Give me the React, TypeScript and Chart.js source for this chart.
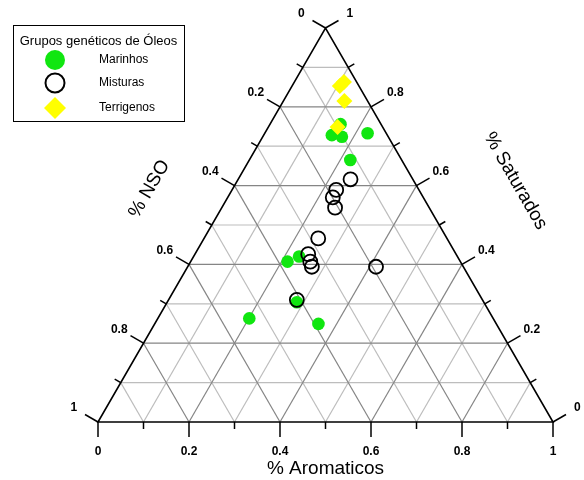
import React, { useEffect, useRef } from 'react';
import { Chart, registerables } from 'chart.js';

Chart.register(...registerables);

// ---- Data (ternary fractions; NSO = 1 - Saturados - Aromaticos) ----
const seriesNames = ['Marinhos', 'Misturas', 'Terrigenos'];
const legendTitle = 'Grupos genéticos de Óleos';
const titleAromaticos = '% Aromaticos';
const titleNSO = '% NSO';
const titleSaturados = '% Saturados';
const tickLabels = ['0', '0.2', '0.4', '0.6', '0.8', '1'];

const marinhosSat = [0.756, 0.728, 0.724, 0.733, 0.665, 0.407, 0.42, 0.304, 0.263, 0.249];
const marinhosAro = [0.155, 0.15, 0.174, 0.226, 0.222, 0.213, 0.232, 0.285, 0.201, 0.36];

const misturasSat = [0.616, 0.589, 0.57, 0.544, 0.466, 0.426, 0.407, 0.394, 0.394, 0.31];
const misturasAro = [0.247, 0.229, 0.231, 0.249, 0.251, 0.249, 0.263, 0.273, 0.414, 0.282];

const terrigenosSat = [0.853, 0.863, 0.815, 0.749];
const terrigenosAro = [0.105, 0.109, 0.134, 0.152];

// ---- helpers ----
const TRI_H = Math.sqrt(3) / 2;
const toXY = (sat: number, aro: number) => ({ x: aro + sat / 2, y: sat * TRI_H });
const toPoints = (sat: number[], aro: number[]) => sat.map((s, i) => toXY(s, aro[i]));

const FONT = 'Arial, "Liberation Sans", sans-serif';
const GREEN = '#10e610';
const YELLOW = '#ffff00';

const ternaryPlugin = {
  id: 'ternary',
  beforeDatasetsDraw(chart: any) {
    const { ctx } = chart;
    const xs = chart.scales.x;
    const ys = chart.scales.y;
    const P = (sat: number, aro: number): [number, number] => {
      const q = toXY(sat, aro);
      return [xs.getPixelForValue(q.x), ys.getPixelForValue(q.y)];
    };
    const line = (a: [number, number], b: [number, number]) => {
      ctx.beginPath();
      ctx.moveTo(a[0], a[1]);
      ctx.lineTo(b[0], b[1]);
      ctx.stroke();
    };
    ctx.save();
    // grid: minor first, then major
    for (const major of [false, true]) {
      ctx.strokeStyle = major ? '#858585' : '#bdbdbd';
      ctx.lineWidth = 1.2;
      for (let i = 1; i < 10; i++) {
        if ((i % 2 === 0) !== major) continue;
        const v = i / 10;
        line(P(v, 0), P(v, 1 - v));
        line(P(0, v), P(1 - v, v));
        line(P(0, 1 - v), P(1 - v, 0));
      }
    }
    // border
    ctx.strokeStyle = '#000';
    ctx.lineWidth = 1.6;
    ctx.beginPath();
    const A = P(0, 0), B = P(0, 1), C = P(1, 0);
    ctx.moveTo(A[0], A[1]);
    ctx.lineTo(B[0], B[1]);
    ctx.lineTo(C[0], C[1]);
    ctx.closePath();
    ctx.stroke();

    // ticks and labels
    const c30 = Math.cos(Math.PI / 6), s30 = 0.5;
    const axes = [
      { base: (v: number) => P(0, v), dir: [0, 1], dist: 30 },            // Aromaticos (bottom)
      { base: (v: number) => P(1 - v, 0), dir: [-c30, -s30], dist: 28 },  // NSO (left)
      { base: (v: number) => P(v, 1 - v), dir: [c30, -s30], dist: 28 },   // Saturados (right)
    ];
    ctx.lineWidth = 1.5;
    ctx.fillStyle = '#000';
    ctx.font = `bold 12px ${FONT}`;
    ctx.textAlign = 'center';
    ctx.textBaseline = 'middle';
    for (const ax of axes) {
      for (let j = 0; j <= 10; j++) {
        const v = j / 10;
        const b = ax.base(v);
        const len = j % 2 === 0 ? 15 : 7;
        line(b, [b[0] + ax.dir[0] * len, b[1] + ax.dir[1] * len]);
        if (j % 2 === 0) {
          ctx.fillText(tickLabels[j / 2], b[0] + ax.dir[0] * ax.dist, b[1] + ax.dir[1] * ax.dist);
        }
      }
    }

    // axis titles
    ctx.font = `19px ${FONT}`;
    const mb = P(0, 0.5);
    ctx.fillText(titleAromaticos, mb[0], mb[1] + 47);
    const ml = P(0.5, 0);
    ctx.save();
    ctx.translate(ml[0] - c30 * 72, ml[1] - s30 * 72);
    ctx.rotate(-Math.PI / 3);
    ctx.fillText(titleNSO, 0, 0);
    ctx.restore();
    const mr = P(0.5, 0.5);
    ctx.save();
    ctx.translate(mr[0] + c30 * 88, mr[1] - s30 * 88);
    ctx.rotate(Math.PI / 3);
    ctx.fillText(titleSaturados, 0, 0);
    ctx.restore();
    ctx.restore();
  },
  afterDraw(chart: any) {
    const { ctx } = chart;
    ctx.save();
    ctx.fillStyle = '#fff';
    ctx.fillRect(13, 25, 171, 96);
    ctx.strokeStyle = '#000';
    ctx.lineWidth = 1;
    ctx.strokeRect(13.5, 25.5, 171, 96);
    ctx.fillStyle = '#000';
    ctx.textBaseline = 'middle';
    ctx.textAlign = 'center';
    ctx.font = `13px ${FONT}`;
    ctx.fillText(legendTitle, 98.5, 41);
    ctx.textAlign = 'left';
    ctx.font = `12px ${FONT}`;
    const ys = [60, 83, 108];
    const mx = 55;
    // Marinhos marker
    ctx.fillStyle = GREEN;
    ctx.beginPath();
    ctx.arc(mx, ys[0], 10, 0, Math.PI * 2);
    ctx.fill();
    // Misturas marker
    ctx.strokeStyle = '#000';
    ctx.lineWidth = 2;
    ctx.beginPath();
    ctx.arc(mx, ys[1], 9.5, 0, Math.PI * 2);
    ctx.stroke();
    // Terrigenos marker
    ctx.fillStyle = YELLOW;
    ctx.beginPath();
    ctx.moveTo(mx, ys[2] - 11);
    ctx.lineTo(mx + 11, ys[2]);
    ctx.lineTo(mx, ys[2] + 11);
    ctx.lineTo(mx - 11, ys[2]);
    ctx.closePath();
    ctx.fill();
    ctx.fillStyle = '#000';
    seriesNames.forEach((n, i) => ctx.fillText(n, 99, ys[i]));
    ctx.restore();
  },
};

export default function App() {
  const ref = useRef<HTMLCanvasElement>(null);
  useEffect(() => {
    if (!ref.current) return;
    const chart = new Chart(ref.current, {
      type: 'scatter',
      data: {
        datasets: [
          {
            label: seriesNames[0],
            data: toPoints(marinhosSat, marinhosAro),
            pointStyle: 'circle',
            pointRadius: 6.3,
            backgroundColor: GREEN,
            borderColor: GREEN,
            borderWidth: 0,
            order: 3,
            clip: false,
          },
          {
            label: seriesNames[1],
            data: toPoints(misturasSat, misturasAro),
            pointStyle: 'circle',
            pointRadius: 7,
            backgroundColor: 'rgba(0,0,0,0)',
            borderColor: '#000',
            borderWidth: 1.8,
            order: 2,
            clip: false,
          },
          {
            label: seriesNames[2],
            data: toPoints(terrigenosSat, terrigenosAro),
            pointStyle: 'rectRot',
            pointRadius: 8,
            backgroundColor: YELLOW,
            borderColor: YELLOW,
            borderWidth: 0,
            order: 1,
            clip: false,
          },
        ],
      },
      options: {
        animation: false,
        responsive: false,
        events: [],
        layout: { padding: { left: 98, right: 31, top: 28, bottom: 58 } },
        scales: {
          x: { type: 'linear', min: 0, max: 1, display: false },
          y: { type: 'linear', min: 0, max: TRI_H, display: false },
        },
        plugins: { legend: { display: false }, tooltip: { enabled: false } },
      },
      plugins: [ternaryPlugin],
    } as any);
    return () => chart.destroy();
  }, []);
  return (
    <div style={{ position: 'fixed', left: 0, top: 0, width: 584, height: 480, background: '#fff' }}>
      <canvas ref={ref} width={584} height={480} style={{ display: 'block' }} />
    </div>
  );
}
